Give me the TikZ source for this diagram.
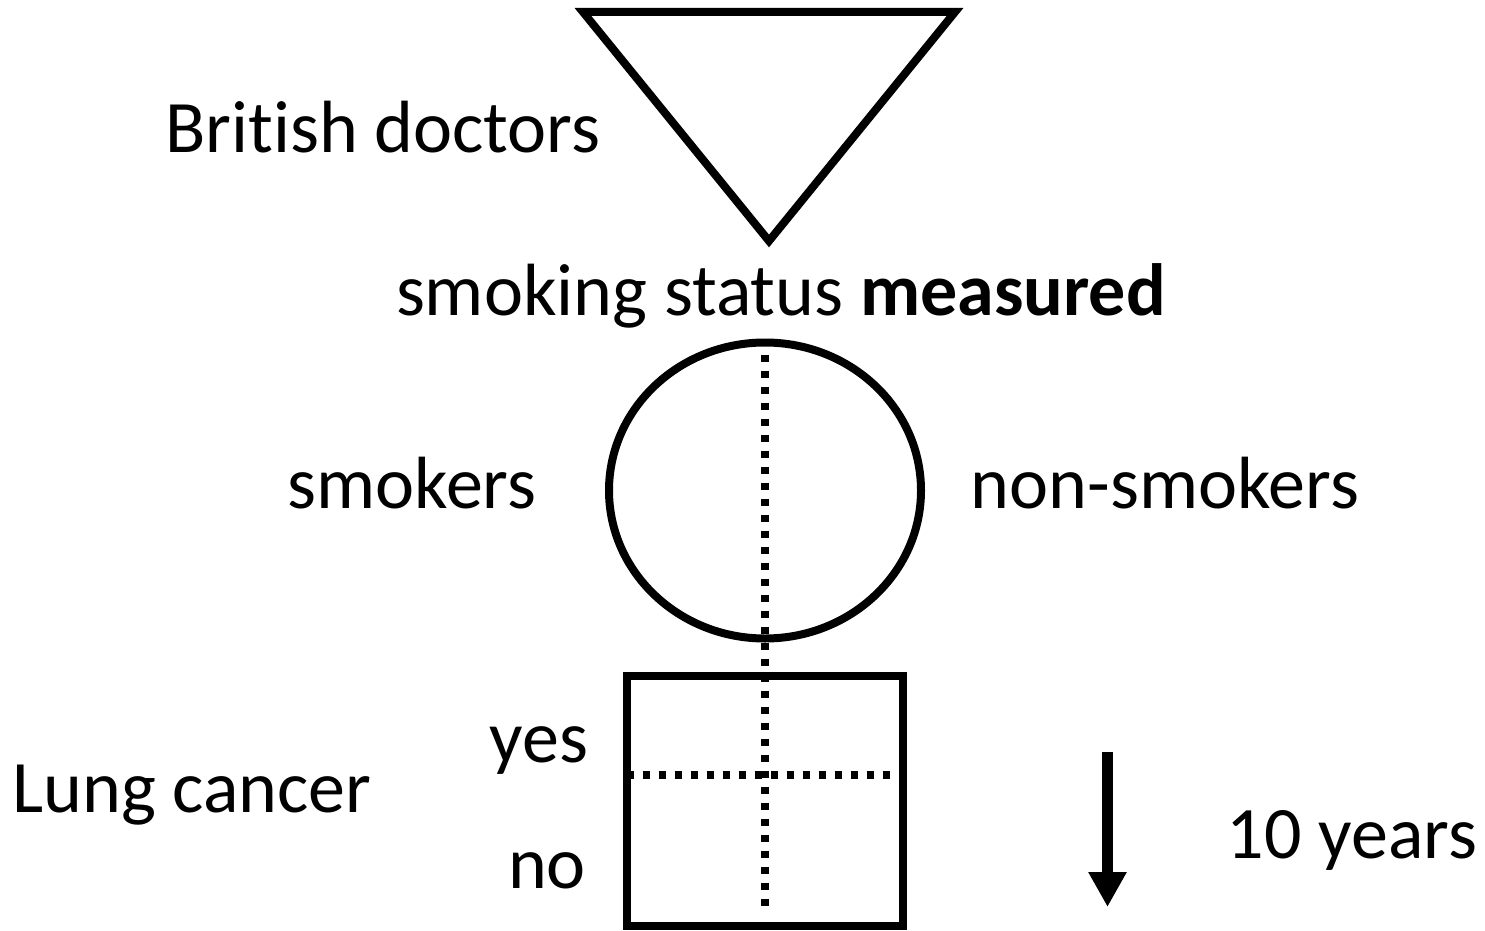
\documentclass[tikz,border=0pt]{standalone}
\usepackage{fontspec}
\setmainfont{Carlito}[Ligatures=NoCommon]
\usetikzlibrary{arrows.meta,shapes.geometric}
\tikzset{
  lbl/.style={anchor=base,inner sep=0pt,font=\fontsize{74}{80}\selectfont},
  shapeline/.style={draw,line width=8pt},
  dotline/.style={line width=7.5pt,dash pattern=on 7pt off 9pt},
}
\begin{document}
\begin{tikzpicture}[x=1pt,y=-1pt]
\useasboundingbox (0,0) rectangle (1485,931);
% triangle
\coordinate (tl) at (583,12);
\coordinate (tr) at (955,12);
\coordinate (tb) at (769,241);
\draw[line width=8pt,line join=miter] (tl) -- (tr) -- (tb) -- cycle;
% circle
\node[shapeline,ellipse,minimum width=312pt,minimum height=296pt,inner sep=0pt] (circ) at (765,490.5) {};
% box
\node[shapeline,rectangle,minimum width=276pt,minimum height=250pt,inner sep=0pt] (box) at (765,801) {};
\coordinate (vend) at (765,913);
\coordinate (hstart) at (627,775);
\coordinate (hend) at (895,775);
\draw[dotline] (circ.north) -- (vend);
\draw[dotline] (hstart) -- (hend);
% arrow
\coordinate (ta) at (1107.5,752);
\coordinate (tz) at (1107.5,907);
\draw[line width=11pt,-{Triangle[width=36pt,length=35pt]}] (ta) -- (tz);
% labels
\node[lbl] (bd) at (383,153) {Brit\kern0pt ish doctors};
\node[lbl] (ssm) at (781,315) {smoking status \textbf{measured}};
\node[lbl] (sm) at (412,508) {smokers};
\node[lbl] (nsm) at (1165,508) {non-smokers};
\node[lbl] (yes) at (539,762) {yes};
\node[lbl] (lc) at (192,812) {Lung cancer};
\node[lbl] (no) at (547,888) {no};
\node[lbl] (ty) at (1352,858) {10 years};
\end{tikzpicture}
\end{document}
